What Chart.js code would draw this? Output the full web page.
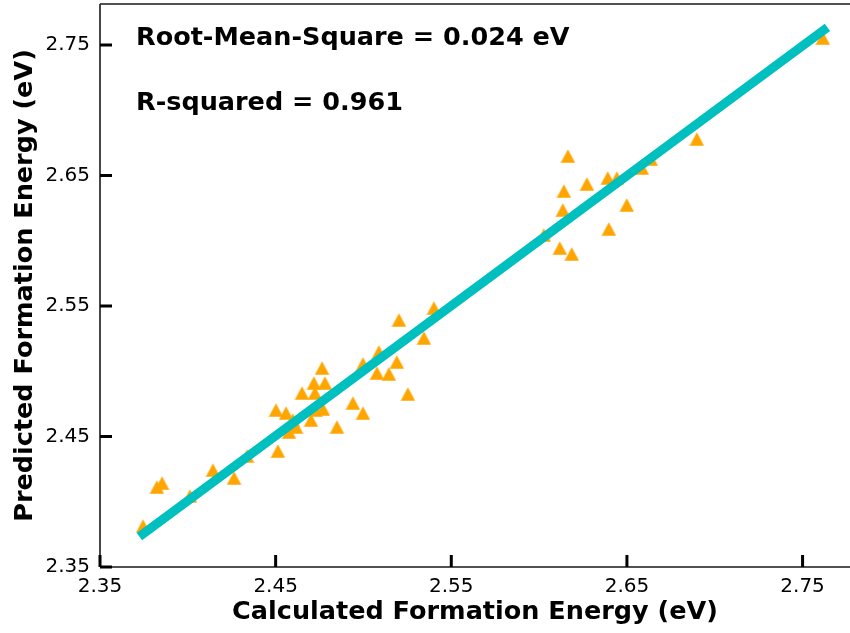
<!DOCTYPE html>
<html>
<head>
<meta charset="utf-8">
<script src="https://cdn.jsdelivr.net/npm/chart.js@4"></script>
<style>
  html, body { margin: 0; padding: 0; background: #ffffff; }
  #wrap { width: 850px; height: 633px; }
</style>
</head>
<body>
<div id="wrap"><canvas id="c" width="850" height="633"></canvas></div>
<script>
// ---- data ----
const calcEnergy = [2.3745, 2.3824, 2.3853, 2.4012, 2.4143, 2.4263, 2.4337, 2.4502, 2.4513, 2.4559,
  2.4576, 2.4598, 2.4616, 2.4650, 2.4701, 2.4724, 2.4718, 2.4729, 2.4764, 2.4769,
  2.4781, 2.4849, 2.4940, 2.4997, 2.4997, 2.5077, 2.5088, 2.5145, 2.5190, 2.5202,
  2.5253, 2.5344, 2.5401, 2.6027, 2.6118, 2.6135, 2.6141, 2.6164, 2.6186, 2.6272,
  2.6391, 2.6443, 2.6397, 2.6499, 2.6585, 2.6636, 2.6898, 2.7615];
const predEnergy = [2.3814, 2.4113, 2.4144, 2.4044, 2.4243, 2.4182, 2.4351, 2.4703, 2.4389, 2.4680,
  2.4534, 2.4626, 2.4573, 2.4833, 2.4626, 2.4833, 2.4910, 2.4703, 2.5025, 2.4711,
  2.4910, 2.4573, 2.4757, 2.4680, 2.5056, 2.4987, 2.5148, 2.4979, 2.5071, 2.5393,
  2.4826, 2.5255, 2.5485, 2.6044, 2.5944, 2.6236, 2.6381, 2.6649, 2.5899, 2.6435,
  2.6481, 2.6481, 2.6090, 2.6274, 2.6558, 2.6626, 2.6780, 2.7554];
const fitX = [2.3745, 2.7621];
const fitY = [2.3753, 2.7615];
const xTicks = [2.35, 2.45, 2.55, 2.65, 2.75];
const yTicks = [2.35, 2.45, 2.55, 2.65, 2.75];
const annotations = ["Root-Mean-Square = 0.024 eV", "R-squared = 0.961"];
const xTitle = "Calculated Formation Energy (eV)";
const yTitle = "Predicted Formation Energy (eV)";

// ---- marker: matplotlib-like '^' ----
function makeTriangle(w, h, color) {
  const cv = document.createElement('canvas');
  cv.width = w; cv.height = h;
  const g = cv.getContext('2d');
  g.fillStyle = color;
  g.beginPath();
  g.moveTo(w / 2, 0.3);
  g.lineTo(w - 0.3, h - 0.3);
  g.lineTo(0.3, h - 0.3);
  g.closePath();
  g.fill();
  return cv;
}
const tri = makeTriangle(15, 14, '#FFA500');

const scatterPts = calcEnergy.map((x, i) => ({ x: x, y: predEnergy[i] }));
const fitPts = fitX.map((x, i) => ({ x: x, y: fitY[i] }));

const FONT = "'DejaVu Sans', sans-serif";

const decor = {
  id: 'decor',
  afterDraw(chart) {
    const { ctx, chartArea: a, scales } = chart;
    ctx.save();
    // spines (left, bottom, top)
    ctx.strokeStyle = '#1a1a1a';
    ctx.lineWidth = 1.6;
    ctx.beginPath();
    ctx.moveTo(a.left, a.top); ctx.lineTo(a.right, a.top);
    ctx.moveTo(a.left, a.top); ctx.lineTo(a.left, a.bottom);
    ctx.moveTo(a.left, a.bottom); ctx.lineTo(a.right, a.bottom);
    ctx.stroke();
    // inward tick marks
    ctx.lineWidth = 3;
    ctx.strokeStyle = '#000';
    ctx.beginPath();
    scales.x.ticks.forEach(t => {
      const px = scales.x.getPixelForValue(t.value);
      ctx.moveTo(px, a.bottom); ctx.lineTo(px, a.bottom - 12);
    });
    scales.y.ticks.forEach(t => {
      const py = scales.y.getPixelForValue(t.value);
      ctx.moveTo(a.left, py); ctx.lineTo(a.left + 12, py);
    });
    ctx.stroke();
    // annotation text
    ctx.fillStyle = '#000';
    ctx.font = "bold 25.5px " + FONT;
    ctx.textAlign = 'left';
    ctx.textBaseline = 'alphabetic';
    ctx.fillText(annotations[0], 136, 45);
    ctx.fillText(annotations[1], 136, 110);
    ctx.restore();
  }
};

new Chart(document.getElementById('c'), {
  type: 'scatter',
  data: {
    datasets: [
      {
        type: 'line',
        data: fitPts,
        borderColor: '#00BFBF',
        borderWidth: 9,
        borderCapStyle: 'square',
        pointRadius: 0,
        fill: false,
        tension: 0
      },
      {
        data: scatterPts,
        pointStyle: tri,
        pointRadius: 8,
        pointHoverRadius: 8,
        backgroundColor: '#FFA500',
        borderWidth: 0
      }
    ]
  },
  options: {
    responsive: false,
    animation: false,
    devicePixelRatio: 1,
    events: [],
    layout: { autoPadding: false, padding: { top: 4, right: 0, left: 0, bottom: 0 } },
    plugins: { legend: { display: false }, tooltip: { enabled: false } },
    scales: {
      x: {
        type: 'linear',
        min: 2.35,
        max: 2.777,
        afterBuildTicks: s => { s.ticks = xTicks.map(v => ({ value: v })); },
        afterFit: s => { s.height = 66; s.paddingLeft = 0; s.paddingRight = 0; },
        grid: { display: false, drawTicks: false },
        border: { display: false },
        ticks: {
          padding: 8,
          color: '#000',
          font: { family: FONT, size: 20 },
          maxRotation: 0,
          autoSkip: false,
          callback: v => Number(v).toFixed(2)
        },
        title: {
          display: true,
          text: xTitle,
          color: '#000',
          font: { family: FONT, size: 25.5, weight: 'bold' },
          padding: { top: 0, bottom: 5 }
        }
      },
      y: {
        type: 'linear',
        min: 2.35,
        max: 2.7814,
        afterBuildTicks: s => { s.ticks = yTicks.map(v => ({ value: v })); },
        afterFit: s => { s.width = 100; s.paddingTop = 0; s.paddingBottom = 0; },
        grid: { display: false, drawTicks: false },
        border: { display: false },
        ticks: {
          padding: 10,
          color: '#000',
          font: { family: FONT, size: 20 },
          autoSkip: false,
          callback: v => Number(v).toFixed(2)
        },
        title: {
          display: true,
          text: yTitle,
          color: '#000',
          font: { family: FONT, size: 25.5, weight: 'bold' },
          padding: { top: 10, bottom: 0 }
        }
      }
    }
  },
  plugins: [decor]
});
</script>
</body>
</html>
